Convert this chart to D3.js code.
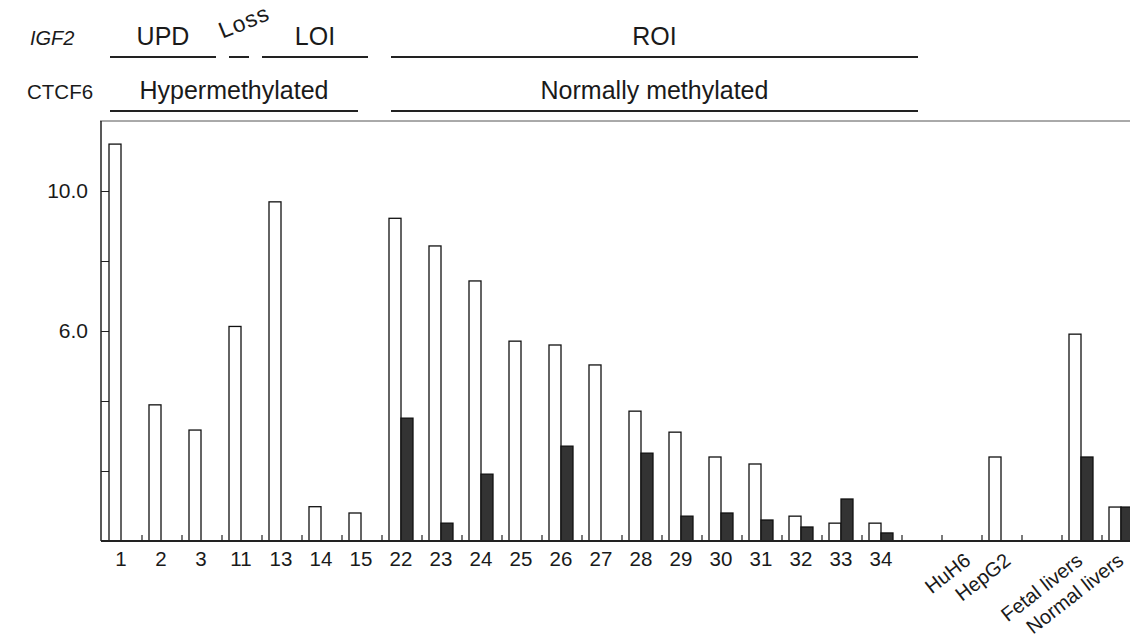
<!DOCTYPE html>
<html>
<head>
<meta charset="utf-8">
<script src="https://cdn.jsdelivr.net/npm/d3@7"></script>
<style>
  body { margin: 0; background: #fff; }
  svg text { font-family: "Liberation Sans", Arial, sans-serif; fill: #1a1a1a; }
</style>
</head>
<body>
<svg id="chart" width="1130" height="637"></svg>
<script>
// samples along the x axis; "gap-" entries are empty slots
var categories = ["1", "2", "3", "11", "13", "14", "15",
  "22", "23", "24", "25", "26", "27", "28", "29", "30", "31", "32", "33", "34",
  "gap-a", "HuH6", "HepG2", "gap-b", "Fetal livers", "Normal livers"];

// open bars
var whiteValues = [11.34, 3.89, 3.17, 6.13, 9.69, 0.98, 0.80,
  9.22, 8.43, 7.43, 5.71, 5.60, 5.03, 3.71, 3.11, 2.40, 2.20, 0.71, 0.51, 0.51,
  null, 0, 2.40, null, 5.91, 0.97];

// filled bars
var blackValues = [null, null, null, null, null, null, null,
  3.51, 0.51, 1.91, null, 2.71, null, 2.51, 0.71, 0.80, 0.60, 0.40, 1.20, 0.23,
  null, 0, null, null, 2.40, 0.97];

var yTickValues = [2, 4, 6, 8, 10];
var yLabelValues = [6, 10];

// header brackets: label, first and last sample covered
var igf2Groups = [
  { label: "UPD", from: "1", to: "3" },
  { label: "Loss", from: "11", to: "11" },
  { label: "LOI", from: "13", to: "15" },
  { label: "ROI", from: "22", to: "gap-a" }
];
var ctcfGroups = [
  { label: "Hypermethylated", from: "1", to: "15" },
  { label: "Normally methylated", from: "22", to: "gap-a" }
];

var svg = d3.select("#chart");
var x0 = 102, step = 40, yBase = 541, yTop = 121;

var x = d3.scaleBand()
  .domain(categories)
  .range([x0, x0 + step * categories.length]);

var xSub = d3.scaleBand()
  .domain(["white", "black"])
  .range([7, 31]);

var y = d3.scaleLinear()
  .domain([0, 12])
  .range([yBase, yTop]);

// frame
svg.append("line")
  .attr("x1", 100).attr("x2", 1130)
  .attr("y1", yTop).attr("y2", yTop)
  .attr("stroke", "#555").attr("stroke-width", 1);

svg.append("line")
  .attr("x1", 101).attr("x2", 101)
  .attr("y1", yTop).attr("y2", yBase)
  .attr("stroke", "#222").attr("stroke-width", 1.5);

// y ticks pointing inward
var yTicks = svg.append("g")
  .attr("transform", "translate(101,0)")
  .call(d3.axisRight(y).tickValues(yTickValues).tickSize(8).tickFormat(""));
yTicks.select(".domain").remove();
yTicks.selectAll("line").attr("stroke", "#222");

var yLabels = svg.append("g")
  .attr("transform", "translate(101,0)")
  .call(d3.axisLeft(y).tickValues(yLabelValues).tickSize(0).tickPadding(13)
    .tickFormat(d3.format(".1f")));
yLabels.select(".domain").remove();
yLabels.selectAll("text")
  .style("font-size", "21px")
  .style("font-family", "'Liberation Sans', Arial, sans-serif")
  .attr("fill", "#1a1a1a");

// bars
function drawBars(values, key, fill) {
  var rows = categories.map(function (c, i) {
    return { cat: c, value: values[i] };
  }).filter(function (d) {
    return d.value != null && d.value > 0;
  });

  svg.append("g")
    .selectAll("rect")
    .data(rows)
    .enter().append("rect")
    .attr("x", function (d) { return x(d.cat) + xSub(key); })
    .attr("width", xSub.bandwidth())
    .attr("y", function (d) { return y(d.value); })
    .attr("height", function (d) { return yBase - y(d.value); })
    .attr("fill", fill)
    .attr("stroke", "#111")
    .attr("stroke-width", 1.3);
}

drawBars(whiteValues, "white", "#fff");
drawBars(blackValues, "black", "#333");

// baseline
svg.append("line")
  .attr("x1", 101).attr("x2", 1130)
  .attr("y1", yBase).attr("y2", yBase)
  .attr("stroke", "#222").attr("stroke-width", 2);

// tick marks between samples
svg.append("g")
  .selectAll("line")
  .data(categories.slice(1))
  .enter().append("line")
  .attr("x1", function (d) { return x(d); })
  .attr("x2", function (d) { return x(d); })
  .attr("y1", yBase)
  .attr("y2", yBase - 6)
  .attr("stroke", "#222")
  .attr("stroke-width", 1.2);

// sample labels
var xAxis = svg.append("g")
  .attr("transform", "translate(0," + yBase + ")")
  .call(d3.axisBottom(x).tickSize(0).tickPadding(10)
    .tickFormat(function (d) { return d.indexOf("gap") === 0 ? "" : d; }));
xAxis.select(".domain").remove();
xAxis.selectAll("text")
  .style("font-size", "20.5px")
  .style("font-family", "'Liberation Sans', Arial, sans-serif")
  .attr("fill", "#1a1a1a")
  .attr("dx", "-1");

// the last labels are slanted; shift the end point a little per label
var slantShift = { "HuH6": 10, "HepG2": 10, "Fetal livers": 2, "Normal livers": 3 };
xAxis.selectAll("text")
  .filter(function (d) { return d in slantShift; })
  .style("font-size", "20px")
  .attr("text-anchor", "end")
  .attr("x", function (d) { return slantShift[d]; })
  .attr("y", 22)
  .attr("dy", 0)
  .attr("dx", 0)
  .attr("transform", function (d) {
    return "rotate(-38," + slantShift[d] + ",22)";
  });

// header rows
function drawHeader(groups, lineY, textY, insets) {
  var g = svg.append("g");
  groups.forEach(function (grp, i) {
    var x1 = x(grp.from) + insets[i][0];
    var x2 = x(grp.to) + x.bandwidth() - insets[i][1];
    g.append("line")
      .attr("x1", x1).attr("x2", x2)
      .attr("y1", lineY).attr("y2", lineY)
      .attr("stroke", "#222").attr("stroke-width", 2);
    var t = g.append("text")
      .attr("text-anchor", "middle")
      .style("font-size", "25px")
      .text(grp.label);
    if (grp.label === "Loss") {
      t.attr("transform", "translate(" + ((x1 + x2) / 2 + 8) + "," + (textY - 16) + ") rotate(-22)")
        .style("font-size", "23px")
        .style("letter-spacing", "1px");
    } else {
      t.attr("x", (x1 + x2) / 2).attr("y", textY);
    }
  });
}

drawHeader(igf2Groups, 57, 45, [[8, 6], [7, 13], [0, 14], [9, 24]]);
drawHeader(ctcfGroups, 111, 99, [[8, 24], [9, 24]]);

svg.append("text")
  .attr("x", 30).attr("y", 45)
  .style("font-size", "20px")
  .style("font-style", "italic")
  .text("IGF2");

svg.append("text")
  .attr("x", 27).attr("y", 99)
  .style("font-size", "20.5px")
  .text("CTCF6");
</script>
</body>
</html>
